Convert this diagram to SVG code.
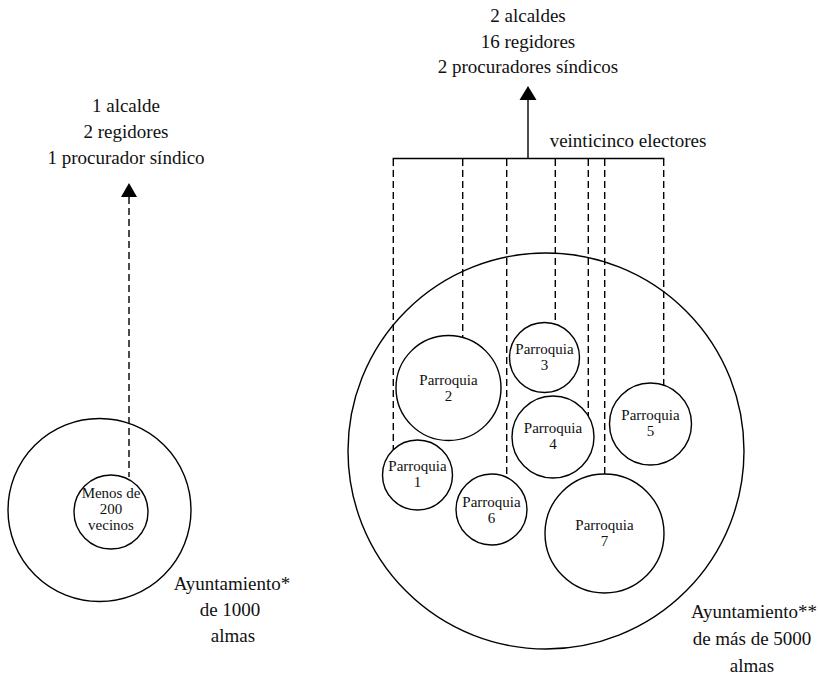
<svg xmlns="http://www.w3.org/2000/svg" width="820" height="678" viewBox="0 0 820 678">
<style>
  .c { fill: #fff; stroke: #000; stroke-width: 1.4; }
  .big { fill: none; stroke: #000; stroke-width: 1.4; }
  .t { font-family: "Liberation Serif", "Times New Roman", serif; font-size: 19px; fill: #111; text-anchor: middle; }
  .s { font-family: "Liberation Serif", "Times New Roman", serif; font-size: 15px; fill: #111; text-anchor: middle; }
  .dash { fill: none; stroke: #000; stroke-width: 1.4; stroke-dasharray: 7 4; }
  .solid { fill: none; stroke: #000; stroke-width: 1.4; }
  .head { fill: #000; stroke: none; }
</style>
<rect width="820" height="678" fill="#fff"/>

<g id="ayuntamiento-1000">
  <circle class="big" cx="99.5" cy="510" r="91.5"/>
  <text class="t" x="232" y="590">Ayuntamiento*</text>
  <text class="t" x="230" y="616">de 1000</text>
  <text class="t" x="233" y="642">almas</text>
</g>

<g id="menos-200">
  <circle class="c" cx="111" cy="512" r="37"/>
  <text class="s" x="111" y="498">Menos de</text>
  <text class="s" x="111" y="514">200</text>
  <text class="s" x="111" y="530">vecinos</text>
</g>

<g id="cargos-pequeno">
  <text class="t" x="126" y="112">1 alcalde</text>
  <text class="t" x="126" y="138">2 regidores</text>
  <text class="t" x="126" y="164">1 procurador síndico</text>
</g>

<g id="ayuntamiento-5000">
  <circle class="big" cx="546" cy="451" r="198"/>
  <text class="t" x="754" y="618">Ayuntamiento**</text>
  <text class="t" x="752" y="645">de más de 5000</text>
  <text class="t" x="752" y="672">almas</text>
</g>

<g id="cargos-grande">
  <text class="t" x="528" y="22">2 alcaldes</text>
  <text class="t" x="528" y="47.5">16 regidores</text>
  <text class="t" x="528" y="73">2 procuradores síndicos</text>
</g>

<g id="electores">
  <text class="t" x="628" y="147">veinticinco electores</text>
</g>

<g id="connectors">
  <line class="dash" x1="129" y1="197" x2="129" y2="477"/>
  <polygon class="head" points="129,183 121,197 137,197"/>

  <line class="solid" x1="528" y1="99" x2="528" y2="158.5"/>
  <polygon class="head" points="528,86 519.5,100 536.5,100"/>
  <line class="solid" x1="392.6" y1="158.5" x2="664.4" y2="158.5"/>

  <line class="dash" x1="393.3" y1="159" x2="393.3" y2="450"/>
  <line class="dash" x1="462.7" y1="159" x2="462.7" y2="338"/>
  <line class="dash" x1="506.7" y1="159" x2="506.7" y2="478"/>
  <line class="dash" x1="555.3" y1="159" x2="555.3" y2="324"/>
  <line class="dash" x1="588.3" y1="159" x2="588.3" y2="416"/>
  <line class="dash" x1="604.7" y1="159" x2="604.7" y2="474"/>
  <line class="dash" x1="663.7" y1="159" x2="663.7" y2="385"/>
</g>

<g id="parroquia-1">
  <circle class="c" cx="417.5" cy="475" r="35"/>
  <text class="s" x="417.5" y="471">Parroquia</text>
  <text class="s" x="417.5" y="487">1</text>
</g>
<g id="parroquia-2">
  <circle class="c" cx="448.5" cy="388" r="52.5"/>
  <text class="s" x="448.5" y="385">Parroquia</text>
  <text class="s" x="448.5" y="401">2</text>
</g>
<g id="parroquia-3">
  <circle class="c" cx="544.5" cy="357.5" r="35"/>
  <text class="s" x="544.5" y="354">Parroquia</text>
  <text class="s" x="544.5" y="370">3</text>
</g>
<g id="parroquia-4">
  <circle class="c" cx="553" cy="437" r="41"/>
  <text class="s" x="553" y="433">Parroquia</text>
  <text class="s" x="553" y="449">4</text>
</g>
<g id="parroquia-5">
  <circle class="c" cx="650.5" cy="424" r="41"/>
  <text class="s" x="650.5" y="420">Parroquia</text>
  <text class="s" x="650.5" y="436">5</text>
</g>
<g id="parroquia-6">
  <circle class="c" cx="491.5" cy="509.5" r="35.5"/>
  <text class="s" x="491.5" y="507">Parroquia</text>
  <text class="s" x="491.5" y="523">6</text>
</g>
<g id="parroquia-7">
  <circle class="c" cx="604.5" cy="533.5" r="59.5"/>
  <text class="s" x="604.5" y="530">Parroquia</text>
  <text class="s" x="604.5" y="546">7</text>
</g>
</svg>
